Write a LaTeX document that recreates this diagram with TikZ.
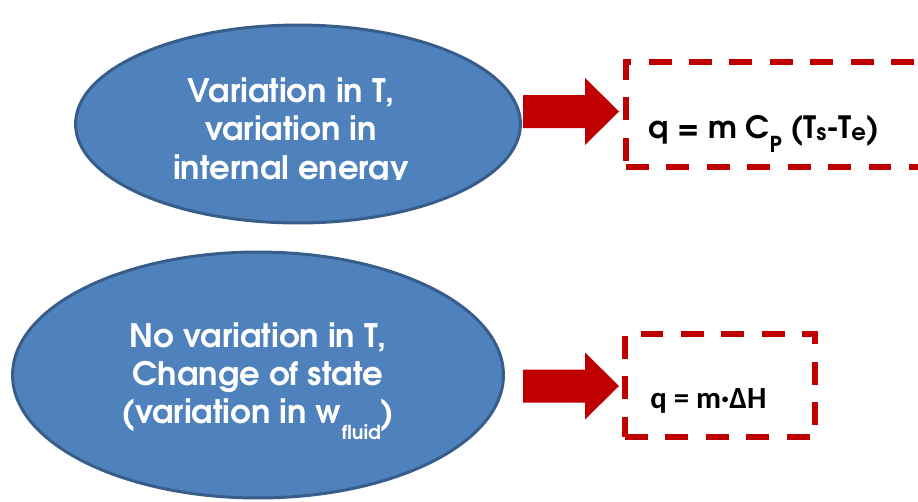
\documentclass[tikz,border=0pt]{standalone}
\usepackage{fontspec}
\usetikzlibrary{shapes.geometric}
\newfontfamily\gothic{texgyreadventor}[Extension=.otf,UprightFont=*-regular,BoldFont=*-bold]
\newfontfamily\calib{Carlito}
\definecolor{bubblefill}{HTML}{4F81BD}
\definecolor{bubbleline}{HTML}{385D8A}
\definecolor{arrowred}{HTML}{C00000}

\newcommand{\scl}{0.02}
\newcommand{\lowtxt}[3]{\raisebox{#1}{\fontsize{#2}{#2}\selectfont #3}}
\newcommand{\redarrow}[1]{
  \fill[arrowred] (523,#1-16.5) -- (585,#1-16.5) -- (585,#1-33.5) -- (619,#1)
    -- (585,#1+33.5) -- (585,#1+16.5) -- (523,#1+16.5) -- cycle;
}

\tikzset{
  bubble/.style={ellipse,draw=bubbleline,fill=bubblefill,line width=1.7pt,inner sep=0pt},
  bubbletext/.style={text=white,align=center,inner sep=0pt,
    font=\gothic\bfseries\fontsize{18.4}{21.8}\selectfont},
  formbox/.style={rectangle,draw=arrowred,line width=3.4pt,dash pattern=on 13pt off 10pt,inner sep=0pt},
  formula/.style={text=black,inner sep=0pt,anchor=base west}
}

\begin{document}
\begin{tikzpicture}[x=\scl cm,y=-\scl cm]
  \useasboundingbox (0,0) rectangle (918,501);
  % upper case: sensible heat
  \node[bubble,minimum width=8.9cm,minimum height=3.96cm] (varT) at (298,124) {};
  \begin{scope}
    \clip (0,0) rectangle (918,179);
    \node[bubbletext] (varTtxt) at (291,132) {Variation in T,\\variation in\\internal energy};
  \end{scope}
  \redarrow{111.5}
  \node[formbox,minimum width=6.68cm,minimum height=2.1cm] (boxT) at (793,114.5) {};
  \node[formula,font=\gothic\bfseries\fontsize{17.5}{20}\selectfont] (qT) at (648,138)
    {q = m C\lowtxt{-8pt}{12.5}{P} (T\lowtxt{-1.5pt}{13}{s}-T\lowtxt{-1.5pt}{13}{e})};
  % lower case: latent heat
  \node[bubble,minimum width=9.82cm,minimum height=4.92cm] (noT) at (258,375) {};
  \node[bubbletext] (noTtxt) at (258,381)
    {No variation in T,\\Change of state\\(variation in w\lowtxt{-9pt}{11}{fluid})};
  \redarrow{386}
  \node[formbox,minimum width=3.8cm,minimum height=2.06cm] (boxH) at (720,385.5) {};
  \node[formula,font=\calib\bfseries\fontsize{17.5}{20}\selectfont] (qH) at (650,408) {q = m·ΔH};
\end{tikzpicture}
\end{document}
